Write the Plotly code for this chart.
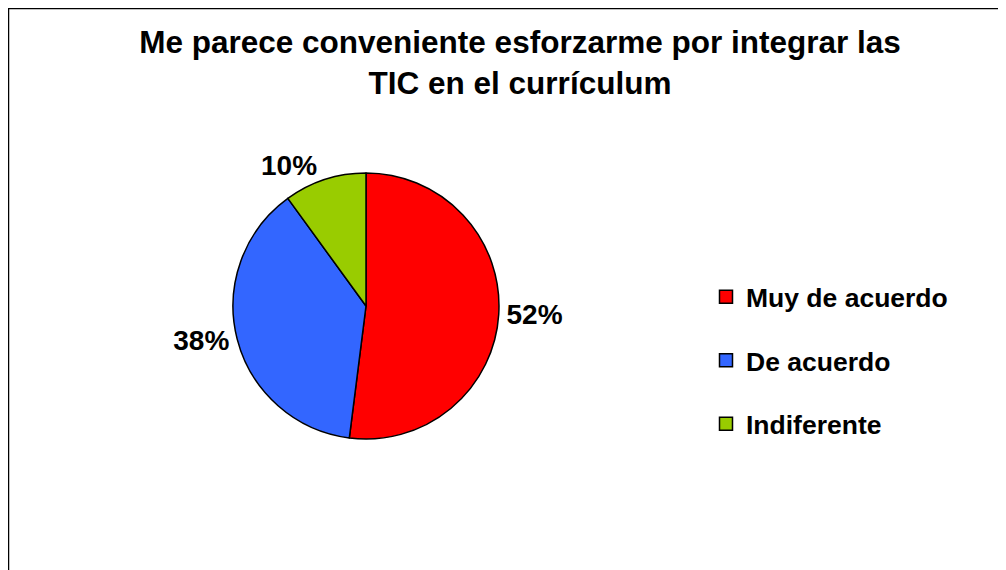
import plotly.graph_objects as go

categories = ["Muy de acuerdo", "De acuerdo", "Indiferente"]
values = [52, 38, 10]
colors = ["#FF0000", "#3366FF", "#99CC00"]
title_lines = ["Me parece conveniente esforzarme por integrar las", "TIC en el currículum"]

W, H = 1006, 570

fig = go.Figure()
fig.add_trace(go.Pie(
    labels=categories,
    values=values,
    sort=False,
    direction="clockwise",
    rotation=0,
    marker=dict(colors=colors, line=dict(color="black", width=1.5)),
    textinfo="percent",
    texttemplate="%{percent:.0%}",
    textposition="outside",
    textfont=dict(family="Liberation Sans", size=28, color="black", weight="bold"),
    showlegend=False,
    hoverinfo="skip",
    domain=dict(x=[225 / W, 491 / W], y=[1 - 431 / H, 1 - 165 / H]),
))

for name, col in zip(categories, colors):
    fig.add_trace(go.Scatter(
        x=[None], y=[None], mode="markers", name=name,
        marker=dict(symbol="square", size=13, color=col, line=dict(color="black", width=1.5)),
        legendgroup=name, showlegend=True,
    ))

fig.update_layout(
    width=W, height=H,
    margin=dict(l=0, r=0, t=0, b=0),
    paper_bgcolor="white", plot_bgcolor="white",
    xaxis=dict(visible=False), yaxis=dict(visible=False),
    title=dict(
        text="<br>".join(title_lines),
        x=512 / W, xanchor="center", y=1 - 45 / H, yanchor="top",
        font=dict(family="Liberation Sans", size=31.5, color="black", weight="bold"),
    ),
    legend=dict(
        x=698 / W, xanchor="left", y=1 - 265 / H, yanchor="top",
        font=dict(family="Liberation Sans", size=26.5, color="black", weight="bold"),
        tracegroupgap=26, bgcolor="rgba(0,0,0,0)", itemsizing="trace",
    ),
    shapes=[dict(type="rect", xref="paper", yref="paper",
                 x0=0, x1=1.02, y0=-0.02, y1=1,
                 line=dict(color="black", width=2.5), layer="above")],
)

fig.write_html("out.html")
